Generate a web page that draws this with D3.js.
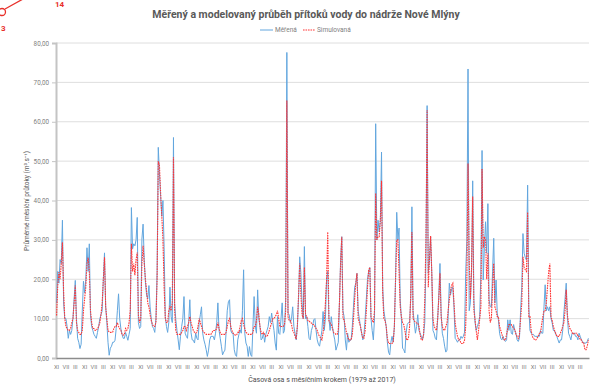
<!DOCTYPE html>
<html>
<head>
<meta charset="utf-8">
<script src="https://cdn.jsdelivr.net/npm/d3@7/dist/d3.min.js"></script>
<style>
  body { margin: 0; background: #fff; }
  #chart { width: 597px; height: 390px; }
  text { font-family: Roboto, 'Open Sans', sans-serif; }
</style>
</head>
<body>
<div id="chart"></div>
<script>
// hydrologicky rok zacina v listopadu
const monthNames = ['XI', 'XII', 'I', 'II', 'III', 'IV', 'V', 'VI', 'VII', 'VIII', 'IX', 'X'];
const labelStep = 8;
const yTicks = [0, 10, 20, 30, 40, 50, 60, 70, 80];
const seriesNames = ['Měřená', 'Simulovaná'];

const measured = [
  14, 22, 19, 25, 24, 35, 14, 10, 10, 8, 5, 7,
  6, 7, 10, 15, 19.7, 10, 5, 4, 2.4, 3.5, 12, 19.5,
  16.5, 20, 28, 22, 29, 11, 8, 7, 6, 5.5, 5, 6.5,
  8, 10, 11, 12, 20, 26.7, 13, 9, 4, 0.7, 2.5, 3,
  4, 4, 4.5, 7.5, 12, 16.3, 10, 7.5, 6, 5, 5, 6.5,
  5.5, 4.5, 6, 7.5, 38.2, 27.7, 29, 28.5, 30, 35.7, 9, 7.5,
  8, 30.2, 34, 25, 19.3, 16, 15, 18.4, 13, 10, 8, 7.5,
  6.5, 10, 22, 53.5, 47, 41, 36, 40, 28, 10.5, 8, 6.5,
  9, 18, 10.5, 9, 56, 14, 9.7, 7, 4.6, 2.1, 5.5, 8,
  10, 15.6, 6.3, 5.5, 5, 9, 14.8, 6.5, 4.6, 4.5, 3.8, 6.3,
  5, 4.6, 9, 11, 13, 6.3, 4.6, 3.5, 2.1, 0.4, 2, 4.6,
  5.5, 5.5, 5.5, 4.6, 6.3, 9, 14, 7, 5, 3, 0.8, 1.5,
  2, 6.3, 12, 14.3, 14.8, 7, 6.3, 6.3, 2.1, 0.8, 0.4, 4.6,
  6, 7.2, 6.3, 12, 22.4, 6.3, 3.8, 3, 0.4, 2.9, 0.8, 0.4,
  8, 15.6, 8, 6.3, 17.3, 10, 8, 4.6, 5, 6.3, 4, 6,
  7, 8, 10.5, 9, 11.4, 9, 7, 3.8, 2, 10.5, 6.3, 6,
  10, 14, 6.3, 7, 15, 77.6, 11.4, 11, 9, 10, 13, 8,
  6.3, 4.6, 8, 15, 25.7, 21.5, 14, 10, 28.3, 10, 10.5, 8,
  5, 4.6, 7, 8, 9.7, 10, 7, 4.6, 3.5, 3, 5, 7,
  11.8, 7, 10, 19.8, 22, 10, 7, 10.5, 8, 6, 4.6, 2,
  3, 4, 14, 25, 30.8, 12, 10.5, 4.6, 2, 6.3, 4, 4.5,
  4.6, 8, 13, 18, 19, 21.5, 12, 10, 8, 6.3, 4.6, 6,
  10, 15, 20, 22, 23, 10, 7, 4.6, 10, 59.5, 30, 35,
  32, 35, 52.3, 18, 12, 10, 8, 4, 1.5, 0.8, 4, 5.5,
  4, 8, 20, 37, 30, 33, 14.8, 10, 2.5, 2.1, 1.3, 6.3,
  8.5, 9, 9, 15, 38.4, 12, 9, 6.3, 8, 11, 7, 6.3,
  5.5, 4.6, 6, 9, 25, 64.1, 21.5, 25, 30.8, 21.5, 7, 6.3,
  5, 4.6, 9.7, 16, 24, 11.4, 6.3, 5, 3, 1.5, 2, 10.5,
  19, 16, 17.5, 18, 13, 5, 4.6, 4, 4.6, 4.6, 5.5, 5,
  5.5, 6.5, 21.5, 30, 73.4, 12, 14, 21.5, 45, 15, 9, 7,
  8, 9, 10.5, 21.5, 52.7, 19.8, 28, 34.6, 26.6, 39.2, 14.8, 13,
  13, 22, 30.4, 14, 19.8, 11.4, 9.7, 6.3, 5, 4.6, 5.5, 4.6,
  4.2, 4.6, 9.7, 7, 9.7, 6.3, 6, 8.5, 7, 6.3, 4.6, 4.2,
  5, 12, 18, 31.6, 26.6, 25.5, 24.9, 43.9, 13, 7, 6.3, 6,
  6, 5.5, 5.5, 5.5, 5.5, 5.5, 7, 6.3, 6.3, 13, 18.6, 12,
  13, 12, 13, 10, 8.9, 7, 7, 6, 5.5, 4.6, 3.8, 4.6,
  4.6, 7, 11.4, 15, 19, 10.5, 6.3, 5.5, 4.6, 6.3, 6.3, 6.3,
  5.5, 5.5, 4.6, 6.3, 5.5, 4.6, 4.2, 3.8, 3.8, 3.8, 4.2, 5
];

const simulated = [
  10.8, 18.4, 21.8, 20, 24, 29.4, 17, 10, 8, 7.5, 7, 7,
  7.5, 9, 10, 14, 18.4, 9, 7, 6.5, 6, 6, 7, 12,
  15, 18, 24, 25.5, 22, 12, 9, 7.5, 7.5, 7, 7, 7.5,
  8, 9, 11, 14, 20, 25.6, 13, 10, 7, 6.6, 6.5, 6.5,
  6.6, 7.5, 8, 8, 9, 8, 7.5, 7, 6, 5.8, 6, 7.5,
  7, 7.5, 9, 12, 29, 22, 24, 21, 25, 26.8, 10.8, 9,
  10, 24, 28.5, 24, 20, 17, 14, 13, 11, 9.5, 8.5, 8,
  8, 9, 20, 50, 49, 42, 36, 30, 18, 10, 9, 9,
  12, 13, 12, 14, 51, 12, 7, 6, 6, 6, 6, 6.5,
  7, 8, 8, 7, 8, 9, 10.5, 9, 8, 7, 6.5, 6.3,
  6.5, 8, 10, 9, 8, 7, 6.5, 6.3, 6, 6, 6, 6,
  6, 6.5, 7, 7, 7, 7.5, 9, 7.5, 6.5, 6, 6, 6,
  6, 6.5, 8, 9.5, 10, 8, 7, 6.3, 6, 5.8, 5.8, 6.5,
  6.5, 8, 9.5, 10, 8.5, 7.5, 6.5, 6.3, 6, 6, 6, 6,
  6.5, 8, 8, 9.5, 13, 11, 8, 6.5, 6, 6.5, 6, 5.5,
  5.5, 6, 7, 8, 9, 10, 10, 10.5, 11, 12, 10, 8,
  8, 8, 8, 8.5, 12, 65.4, 10.5, 9.5, 9.5, 8.5, 7, 6.5,
  5.5, 4.8, 8, 16, 24, 16, 11, 10, 23, 11, 10.5, 9.5,
  9.5, 9, 8.9, 8.5, 8.5, 8, 7.5, 7, 6, 5.5, 5, 4.6,
  6.5, 9, 14, 20, 32, 9.5, 8.9, 8.5, 7.5, 6.5, 6.3, 6,
  6, 7, 14, 24, 30.8, 10, 9.7, 8, 6.5, 5.5, 4.6, 4.6,
  4.6, 6, 10, 15, 19, 21.5, 10, 9, 8, 6.3, 5, 5,
  7, 12, 18, 22.3, 23, 10.5, 9.7, 9, 12, 41.8, 30, 30.8,
  30.8, 35, 45, 16.5, 10, 9.5, 8, 5, 3.7, 3.7, 3.7, 3.7,
  4, 8, 20, 30, 30, 22, 13, 10.5, 9, 8.5, 7, 5,
  4.5, 5, 8, 16, 32, 10, 9.5, 9, 8.9, 8.9, 8, 6,
  4.6, 4.6, 6, 15, 30, 63, 18, 25, 31, 21.5, 10, 8,
  7.5, 7, 10, 15, 21.5, 10.5, 8, 7.2, 7, 8, 8.9, 12,
  14.8, 17, 18.5, 19, 14, 8.9, 7, 5.5, 4.6, 4.6, 3.7, 3.7,
  3.7, 4.5, 8, 20, 49.4, 25, 15, 22.4, 41, 12, 9.7, 7,
  4.6, 7, 10, 13, 48, 28, 30.8, 30, 20, 26.6, 12, 9,
  10, 18, 24, 13, 12, 10.5, 10.5, 8, 7, 6, 5, 4.6,
  4.6, 6, 7.5, 8.5, 8.5, 8.5, 8, 7.5, 7.2, 6, 5.5, 5,
  6, 10, 14, 25.7, 23, 22.4, 22, 37, 10.5, 10.5, 7, 5.5,
  5, 4.6, 4.6, 5, 5.5, 6.3, 6.3, 8.5, 10.5, 12, 12, 14,
  18, 22, 24, 10.5, 9.5, 8, 7, 6.3, 5.5, 5.5, 5.5, 6.3,
  7, 8, 9, 12, 17.3, 11, 8.9, 7.5, 7.2, 6.5, 6, 6.3,
  6.3, 6.3, 5.5, 5.5, 4.6, 4.6, 3.8, 3.8, 2.1, 2.1, 3, 4.6
];

const margin = { top: 43, right: 8, bottom: 32, left: 56 };
const W = 597, H = 390;
const width = W - margin.left - margin.right;
const height = H - margin.top - margin.bottom;
const blue = '#62a6de';
const red = '#ff3535';

const svg = d3.select('#chart').append('svg')
  .attr('width', W)
  .attr('height', H);

// cervene poznamky v levem hornim rohu (soucast predlohy)
const note = svg.append('g').attr('fill', 'none').attr('stroke', '#e8302a').attr('stroke-width', 1.3);
note.append('line').attr('x1', 5).attr('y1', 9).attr('x2', 23).attr('y2', -1);
note.append('circle').attr('cx', 2).attr('cy', 12).attr('r', 3.5);
svg.append('text').attr('x', 55).attr('y', 7).attr('fill', '#e8302a')
  .attr('font-size', 8).attr('font-weight', 700).text('14');
svg.append('text').attr('x', 1).attr('y', 31).attr('fill', '#e8302a')
  .attr('font-size', 8).attr('font-weight', 700).text('3');

const g = svg.append('g')
  .attr('transform', `translate(${margin.left}, ${margin.top})`);

const x = d3.scaleBand()
  .domain(d3.range(measured.length))
  .range([0, width]);

const y = d3.scaleLinear()
  .domain([0, 80])
  .range([height, 0]);

// gridlines
g.append('g')
  .selectAll('line')
  .data(yTicks.filter(d => d > 0))
  .join('line')
  .attr('x1', 0)
  .attr('x2', width)
  .attr('y1', d => y(d))
  .attr('y2', d => y(d))
  .attr('stroke', '#dedede')
  .attr('stroke-width', 1);

// y axis
const yAxis = g.append('g')
  .call(d3.axisLeft(y)
    .tickValues(yTicks)
    .tickSize(4)
    .tickPadding(3)
    .tickFormat(d => d3.format('.2f')(d).replace('.', ',')));
yAxis.select('.domain').attr('stroke', '#c4c4c4').attr('stroke-width', 2);
yAxis.selectAll('.tick line').attr('stroke', '#c4c4c4');
yAxis.selectAll('.tick text').attr('fill', '#808080').attr('font-size', 6.3);

// x axis
const xAxis = g.append('g')
  .attr('transform', `translate(0, ${height})`)
  .call(d3.axisBottom(x)
    .tickValues(d3.range(0, measured.length, labelStep))
    .tickSize(0)
    .tickPadding(7)
    .tickFormat(i => monthNames[i % 12]));
xAxis.select('.domain').attr('stroke', '#8c8c8c').attr('stroke-width', 1.5);
xAxis.selectAll('.tick text').attr('fill', '#808080').attr('font-size', 5.8);
yAxis.selectAll('text').attr('font-family', 'Roboto, sans-serif');
xAxis.selectAll('text').attr('font-family', 'Roboto, sans-serif');

const line = d3.line()
  .x((d, i) => x(i) + x.bandwidth() / 2)
  .y(d => y(d));

g.append('path')
  .datum(measured)
  .attr('fill', 'none')
  .attr('stroke', blue)
  .attr('stroke-width', 1)
  .attr('stroke-linejoin', 'round')
  .attr('d', line);

g.append('path')
  .datum(simulated)
  .attr('fill', 'none')
  .attr('stroke', red)
  .attr('stroke-width', 1.1)
  .attr('stroke-dasharray', '1.6,0.9')
  .attr('d', line);

// title
svg.append('text')
  .attr('x', 306)
  .attr('y', 18)
  .attr('text-anchor', 'middle')
  .attr('fill', '#595959')
  .attr('font-size', 10.5)
  .attr('font-weight', 700)
  .text('Měřený a modelovaný průběh přítoků vody do nádrže Nové Mlýny');

// legend
const legend = svg.append('g').attr('font-size', 6.5).attr('fill', '#808080');
legend.append('line').attr('x1', 260).attr('x2', 273).attr('y1', 30).attr('y2', 30)
  .attr('stroke', blue).attr('stroke-width', 1);
legend.append('text').attr('x', 275).attr('y', 32.3).text(seriesNames[0]);
legend.append('line').attr('x1', 303).attr('x2', 315).attr('y1', 30).attr('y2', 30)
  .attr('stroke', red).attr('stroke-width', 1.1).attr('stroke-dasharray', '1.6,0.9');
legend.append('text').attr('x', 317).attr('y', 32.3).text(seriesNames[1]);

// axis titles
svg.append('text')
  .attr('transform', 'translate(29, 201) rotate(-90)')
  .attr('text-anchor', 'middle')
  .attr('fill', '#595959')
  .attr('font-size', 6.5)
  .text('Průměrné měsíční průtoky (m³.s⁻¹)');

svg.append('text')
  .attr('x', 322)
  .attr('y', 382)
  .attr('text-anchor', 'middle')
  .attr('fill', '#4d4d4d')
  .attr('font-size', 7)
  .text('Časová osa s měsíčním krokem (1979 až 2017)');
</script>
</body>
</html>
